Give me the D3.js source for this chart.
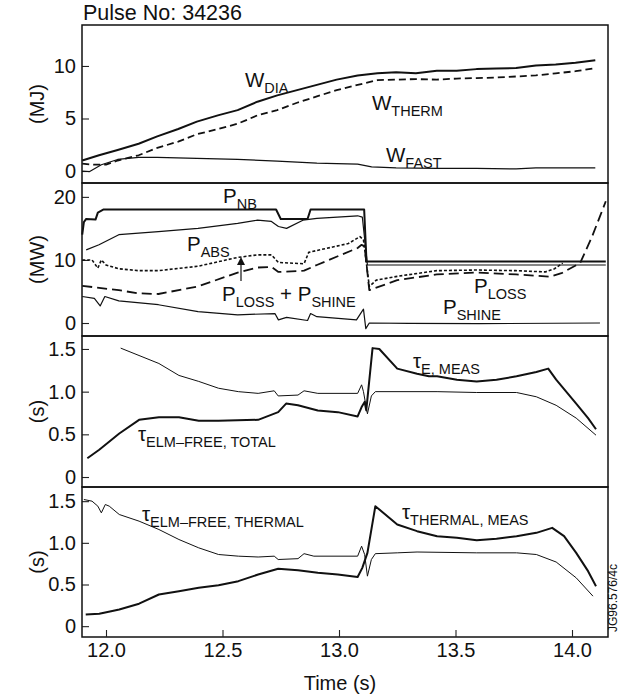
<!DOCTYPE html>
<html>
<head>
<meta charset="utf-8">
<script src="https://cdn.jsdelivr.net/npm/d3@7"></script>
<style>
  html, body { margin: 0; padding: 0; background: #fff; }
  svg { display: block; }
  text { font-family: "Liberation Sans", Arial, Helvetica, sans-serif; fill: #111; }
</style>
</head>
<body>
<svg id="chart" width="624" height="695"></svg>
<script>
// ---- Pulse 34236: stored energy, powers and confinement times ----
const pulseTitle = "Pulse No: 34236";
const xTicks = [12.0, 12.5, 13.0, 13.5, 14.0];

// Panel 1: stored energy (MJ)
const wTicks = [0, 5, 10];
const wDiaT   = [11.898, 11.97, 12.05, 12.14, 12.22, 12.31, 12.39, 12.48, 12.565, 12.65, 12.735, 12.82, 12.905, 12.99, 13.08, 13.165, 13.245, 13.33, 13.42, 13.505, 13.59, 13.675, 13.76, 13.845, 13.93, 14.015, 14.10];
const wDia    = [1.0, 1.5, 2.0, 2.6, 3.3, 4.0, 4.7, 5.3, 5.8, 6.6, 7.2, 7.7, 8.2, 8.7, 9.1, 9.3, 9.4, 9.3, 9.55, 9.55, 9.7, 9.75, 9.8, 10.05, 10.15, 10.3, 10.55];
const wThermT = [11.898, 11.95, 12.0, 12.05, 12.14, 12.22, 12.31, 12.39, 12.48, 12.565, 12.65, 12.735, 12.82, 12.905, 12.99, 13.08, 13.165, 13.245, 13.33, 13.42, 13.505, 13.59, 13.675, 13.76, 13.845, 13.93, 14.015, 14.10];
const wTherm  = [0.7, 0.6, 0.6, 1.0, 1.5, 2.2, 2.8, 3.5, 4.0, 4.5, 5.3, 5.8, 6.5, 7.1, 7.7, 8.2, 8.65, 8.7, 8.75, 8.7, 8.8, 8.85, 8.9, 9.0, 9.1, 9.3, 9.5, 9.8];
const wFastT  = [11.898, 11.93, 11.98, 12.05, 12.14, 12.22, 12.39, 12.565, 12.735, 12.905, 12.99, 13.08, 13.14, 13.245, 13.42, 13.59, 13.76, 13.845, 13.93, 14.10];
const wFast   = [0.0, -0.05, 0.6, 1.1, 1.3, 1.3, 1.2, 1.1, 0.95, 0.75, 0.7, 0.65, 0.4, 0.3, 0.25, 0.25, 0.2, 0.3, 0.3, 0.3];

// Panel 2: powers (MW)
const pTicks = [0, 10, 20];
const pNbT    = [11.898, 11.905, 11.915, 11.955, 11.965, 11.99, 12.73, 12.75, 12.865, 12.878, 13.108, 13.118, 14.145];
const pNb     = [14.0, 16.0, 16.5, 16.4, 17.5, 18.0, 18.0, 16.5, 16.5, 18.0, 18.0, 9.75, 9.75];
const pAbsT   = [11.915, 11.97, 12.055, 12.225, 12.395, 12.565, 12.65, 12.71, 12.74, 12.775, 12.845, 12.905, 13.08, 13.10, 13.122, 14.145];
const pAbs    = [11.6, 12.4, 14.0, 14.5, 15.0, 15.8, 16.3, 16.1, 15.3, 15.0, 16.3, 16.6, 17.0, 16.8, 9.2, 9.2];
const pLossShineT = [11.898, 11.94, 11.965, 11.98, 12.0, 12.055, 12.14, 12.225, 12.395, 12.565, 12.65, 12.71, 12.74, 12.85, 12.87, 12.905, 13.04, 13.09, 13.105, 13.13, 13.16, 13.25, 13.42, 13.59, 13.76, 13.885, 13.925, 13.96];
const pLossShine  = [10.0, 10.0, 8.7, 10.0, 9.2, 8.6, 8.3, 8.3, 9.0, 10.4, 10.8, 10.8, 9.6, 9.4, 11.2, 11.5, 12.6, 13.7, 13.2, 5.8, 6.8, 7.4, 8.3, 8.4, 8.3, 8.1, 8.6, 9.5];
const pLossT  = [11.898, 12.055, 12.14, 12.225, 12.395, 12.565, 12.65, 12.71, 12.74, 12.85, 12.905, 13.08, 13.097, 13.11, 13.13, 13.25, 13.42, 13.59, 13.76, 13.905, 13.955, 14.035, 14.086, 14.12, 14.145];
const pLoss   = [5.9, 5.2, 4.7, 4.6, 5.8, 8.0, 8.8, 8.9, 8.1, 8.3, 9.2, 11.9, 12.4, 12.1, 5.2, 6.8, 7.7, 8.0, 7.7, 7.35, 7.9, 9.5, 13.7, 16.9, 19.3];
const pShineT = [11.898, 11.95, 11.975, 11.995, 12.055, 12.225, 12.395, 12.565, 12.725, 12.74, 12.775, 12.865, 12.878, 12.905, 13.075, 13.098, 13.105, 13.115, 13.13, 13.3, 13.6, 14.12];
const pShine  = [4.2, 3.9, 2.7, 4.2, 3.5, 2.9, 1.8, 1.3, 1.5, 0.5, 0.9, 0.4, 1.5, 1.0, 0.5, 1.8, 2.2, -0.9, 0.0, -0.05, -0.1, 0.0];

// Panels 3 and 4: confinement times (s)
const tauTicks = [0, 0.5, 1.0, 1.5];
const tauTotThinT  = [12.063, 12.227, 12.313, 12.398, 12.483, 12.568, 12.653, 12.722, 12.739, 12.824, 12.85, 12.909, 13.08, 13.097, 13.105, 13.122, 13.139, 13.156, 13.421, 13.591, 13.762, 13.847, 13.932, 14.018, 14.103];
const tauTotThin   = [1.51, 1.33, 1.19, 1.12, 1.04, 1.0, 0.98, 1.01, 0.95, 0.96, 1.01, 0.98, 0.98, 1.08, 1.0, 0.74, 0.95, 1.0, 1.0, 0.99, 0.99, 0.94, 0.84, 0.69, 0.49];
const tauTotThickT = [11.92, 11.971, 12.057, 12.142, 12.227, 12.313, 12.398, 12.483, 12.653, 12.739, 12.773, 12.824, 12.909, 12.995, 13.08, 13.097, 13.11, 13.117, 13.144, 13.173, 13.25, 13.335, 13.386, 13.421, 13.506, 13.591, 13.676, 13.762, 13.847, 13.898, 13.932, 14.018, 14.069, 14.103];
const tauTotThick  = [0.22, 0.32, 0.51, 0.67, 0.70, 0.70, 0.66, 0.66, 0.67, 0.76, 0.86, 0.84, 0.78, 0.76, 0.71, 0.82, 0.88, 0.78, 1.51, 1.5, 1.27, 1.21, 1.18, 1.18, 1.14, 1.12, 1.14, 1.18, 1.23, 1.27, 1.14, 0.86, 0.69, 0.56];
const tauThThinT   = [11.905, 11.94, 11.965, 11.98, 11.997, 12.014, 12.057, 12.142, 12.227, 12.313, 12.398, 12.483, 12.568, 12.653, 12.722, 12.739, 12.824, 12.85, 12.892, 13.08, 13.097, 13.11, 13.122, 13.139, 13.156, 13.25, 13.335, 13.591, 13.762, 13.847, 13.932, 14.018, 14.09];
const tauThThin    = [1.52, 1.5, 1.44, 1.36, 1.46, 1.44, 1.34, 1.26, 1.16, 1.04, 0.94, 0.86, 0.84, 0.83, 0.84, 0.80, 0.81, 0.87, 0.84, 0.84, 0.96, 0.86, 0.60, 0.80, 0.87, 0.88, 0.89, 0.88, 0.88, 0.86, 0.77, 0.58, 0.36];
const tauThThickT  = [11.913, 11.971, 12.022, 12.057, 12.142, 12.227, 12.313, 12.398, 12.483, 12.568, 12.653, 12.739, 12.824, 12.909, 12.995, 13.08, 13.10, 13.122, 13.156, 13.25, 13.335, 13.421, 13.506, 13.591, 13.676, 13.762, 13.847, 13.915, 13.966, 14.018, 14.069, 14.103];
const tauThThick   = [0.14, 0.15, 0.18, 0.2, 0.27, 0.38, 0.42, 0.46, 0.49, 0.54, 0.62, 0.69, 0.67, 0.64, 0.62, 0.59, 0.70, 0.88, 1.44, 1.22, 1.14, 1.08, 1.06, 1.03, 1.05, 1.08, 1.12, 1.18, 1.08, 0.88, 0.66, 0.48];

// ---- layout ----
const svg = d3.select("#chart");
const left = 82, right = 608;
const x = d3.scaleLinear().domain([12.0, 14.0]).range([106, 572]);
const fontTick = 20, fontMain = 20.5, fontSub = 14.5;

const panels = [
  { top: 25,  bottom: 183, domain: [-1.14, 13.9],  ticks: wTicks,   fmt: d3.format("d"), unit: "(MJ)" },
  { top: 183, bottom: 336, domain: [-2.06, 22.2],  ticks: pTicks,   fmt: d3.format("d"), unit: "(MW)" },
  { top: 336, bottom: 487, domain: [-0.117, 1.652], ticks: tauTicks, fmt: d => d === 0 ? "0" : d3.format(".1f")(d), unit: "(s)" },
  { top: 487, bottom: 637, domain: [-0.13, 1.67],  ticks: tauTicks, fmt: d => d === 0 ? "0" : d3.format(".1f")(d), unit: "(s)" }
];
panels.forEach(p => { p.y = d3.scaleLinear().domain(p.domain).range([p.bottom, p.top]); });

const zip = (ts, vs) => ts.map((t, i) => [t, vs[i]]);

function trace(p, ts, vs, width, dash) {
  const line = d3.line().x(d => x(d[0])).y(d => p.y(d[1]));
  svg.append("path")
    .attr("d", line(zip(ts, vs)))
    .attr("fill", "none")
    .attr("stroke", "#111")
    .attr("stroke-width", width)
    .attr("stroke-linejoin", "round")
    .attr("stroke-dasharray", dash || null);
}

// label with subscripts: parts = [[text, isSub], ...]
function label(px, py, parts) {
  const t = svg.append("text").attr("x", px).attr("y", py);
  let sub = false;
  parts.forEach(([s, isSub]) => {
    const sp = t.append("tspan").text(s).attr("font-size", isSub ? fontSub : fontMain);
    if (isSub && !sub) sp.attr("dy", 6);
    if (!isSub && sub) sp.attr("dy", -6);
    sub = isSub;
  });
}

// axes and frames
panels.forEach(p => {
  const ax = svg.append("g").attr("transform", `translate(${left},0)`)
    .call(d3.axisLeft(p.y).tickValues(p.ticks).tickFormat(p.fmt).tickSizeInner(-7).tickSizeOuter(0).tickPadding(6));
  ax.select(".domain").remove();
  ax.selectAll("line").attr("stroke", "#222").attr("stroke-width", 1.1);
  ax.selectAll("text").attr("font-size", fontTick).attr("fill", "#111")
    .attr("font-family", "Liberation Sans, Arial, sans-serif");

  svg.append("rect")
    .attr("x", left).attr("y", p.top)
    .attr("width", right - left).attr("height", p.bottom - p.top)
    .attr("fill", "none").attr("stroke", "#111").attr("stroke-width", 1.5);

  svg.append("text")
    .attr("transform", `translate(37,${(p.top + p.bottom) / 2}) rotate(-90)`)
    .attr("text-anchor", "middle").attr("dy", "0.35em")
    .attr("font-size", fontTick).text(p.unit);
});

const xa = svg.append("g").attr("transform", `translate(0,${panels[3].bottom})`)
  .call(d3.axisBottom(x).tickValues(xTicks).tickFormat(d3.format(".1f")).tickSizeInner(-7).tickSizeOuter(0).tickPadding(6));
xa.select(".domain").remove();
xa.selectAll("line").attr("stroke", "#222").attr("stroke-width", 1.1);
xa.selectAll("text").attr("font-size", fontTick).attr("fill", "#111")
  .attr("font-family", "Liberation Sans, Arial, sans-serif");

svg.append("text").attr("x", 340).attr("y", 690).attr("text-anchor", "middle")
  .attr("font-size", fontTick).text("Time (s)");

svg.append("text").attr("x", 83).attr("y", 20).attr("font-size", 21.5).text(pulseTitle);

svg.append("text")
  .attr("transform", "translate(617,632) rotate(-90)")
  .attr("font-size", 12).text("JG96.576/4c");

// ---- traces ----
const [p1, p2, p3, p4] = panels;
trace(p1, wDiaT, wDia, 2.0);
trace(p1, wThermT, wTherm, 1.8, "7,4");
trace(p1, wFastT, wFast, 1.2);

trace(p2, pNbT, pNb, 2.0);
trace(p2, pAbsT, pAbs, 1.2);
trace(p2, pLossShineT, pLossShine, 1.6, "3,2");
trace(p2, pLossT, pLoss, 1.8, "10,5");
trace(p2, pShineT, pShine, 1.2);

trace(p3, tauTotThinT, tauTotThin, 1.0);
trace(p3, tauTotThickT, tauTotThick, 2.0);
trace(p4, tauThThinT, tauThThin, 1.0);
trace(p4, tauThThickT, tauThThick, 2.0);

// ---- labels ----
label(245, 87, [["W", false], ["DIA", true]]);
label(372, 110, [["W", false], ["THERM", true]]);
label(386, 162, [["W", false], ["FAST", true]]);

label(223, 203, [["P", false], ["NB", true]]);
label(187, 251, [["P", false], ["ABS", true]]);
label(222, 301, [["P", false], ["LOSS", true], [" + P", false], ["SHINE", true]]);
label(474, 293, [["P", false], ["LOSS", true]]);
label(443, 314, [["P", false], ["SHINE", true]]);

// arrow pointing from the P_LOSS + P_SHINE label to its trace
svg.append("line").attr("x1", 241).attr("y1", 281).attr("x2", 241).attr("y2", 263)
  .attr("stroke", "#111").attr("stroke-width", 1.2);
svg.append("path").attr("d", "M237,265 L241,257 L245,265 Z").attr("fill", "#111");

label(413, 368, [["τ", false], ["E, MEAS", true]]);
label(138, 441, [["τ", false], ["ELM–FREE, TOTAL", true]]);
label(142, 521, [["τ", false], ["ELM–FREE, THERMAL", true]]);
label(402, 519, [["τ", false], ["THERMAL, MEAS", true]]);
</script>
</body>
</html>
